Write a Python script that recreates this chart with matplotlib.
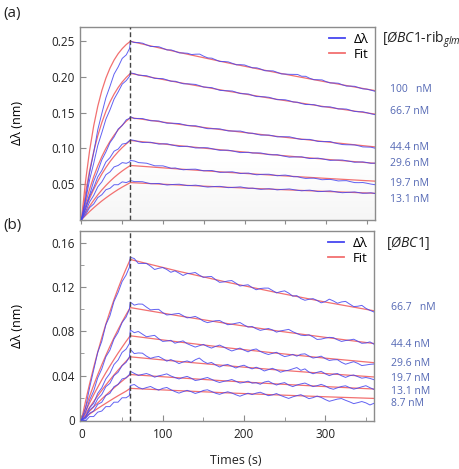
import numpy as np
import matplotlib
matplotlib.use("Agg")
import matplotlib.pyplot as plt
from matplotlib.lines import Line2D

plt.rcParams['font.family'] = ['Open Sans', 'DejaVu Sans']
plt.rcParams['mathtext.fontset'] = 'custom'
plt.rcParams['mathtext.rm'] = 'Open Sans'
plt.rcParams['mathtext.it'] = 'Open Sans:italic'

# ---------------- data ----------------
t_fit_assoc = [0, 5, 10, 15, 20, 25, 30, 35, 40, 45, 50, 55, 60]
t_fit_dis = [60, 120, 180, 240, 300, 360]
t_obs_assoc = [0, 5, 10, 15, 20, 25, 30, 35, 40, 45, 50, 55, 59]
t_obs_dis = list(range(60, 361, 5))

top_conc = ["100   nM", "66.7 nM", "44.4 nM", "29.6 nM", "19.7 nM", "13.1 nM"]
bot_conc = ["66.7   nM", "44.4 nM", "29.6 nM", "19.7 nM", "13.1 nM", "8.7 nM"]

# Fit curves (nm)
top_fit_assoc = [
    [0, 0.054, 0.097, 0.1315, 0.159, 0.181, 0.1985, 0.2125, 0.2237, 0.2326, 0.2397, 0.2455, 0.250],
    [0, 0.0375, 0.069, 0.0954, 0.1176, 0.1362, 0.1519, 0.165, 0.176, 0.1852, 0.193, 0.1995, 0.205],
    [0, 0.023, 0.0429, 0.0603, 0.0754, 0.0885, 0.0999, 0.1098, 0.1184, 0.1259, 0.1324, 0.1381, 0.143],
    [0, 0.0158, 0.0299, 0.0426, 0.0539, 0.0641, 0.0732, 0.0814, 0.0887, 0.0952, 0.1011, 0.1063, 0.111],
    [0, 0.0099, 0.019, 0.0272, 0.0348, 0.0417, 0.048, 0.0538, 0.0591, 0.0639, 0.0683, 0.0723, 0.076],
    [0, 0.0059, 0.0115, 0.0167, 0.0216, 0.0263, 0.0306, 0.0347, 0.0386, 0.0423, 0.0457, 0.0489, 0.052],
]
top_fit_dis = [
    [0.250, 0.2343, 0.2196, 0.2059, 0.1930, 0.1809],
    [0.205, 0.1921, 0.1800, 0.1686, 0.1580, 0.1480],
    [0.143, 0.1336, 0.1249, 0.1167, 0.1091, 0.1020],
    [0.111, 0.1037, 0.0969, 0.0905, 0.0846, 0.0790],
    [0.076, 0.0710, 0.0663, 0.0620, 0.0579, 0.0540],
    [0.052, 0.0486, 0.0454, 0.0424, 0.0396, 0.0370],
]
bot_fit_assoc = [
    [0, 0.0168, 0.0326, 0.0474, 0.0613, 0.0743, 0.0865, 0.0978, 0.1086, 0.1186, 0.128, 0.1367, 0.145],
    [0, 0.011, 0.0214, 0.0313, 0.0408, 0.0498, 0.0583, 0.0664, 0.0742, 0.0815, 0.0885, 0.0952, 0.1015],
    [0, 0.0078, 0.0153, 0.0226, 0.0295, 0.0362, 0.0426, 0.0487, 0.0546, 0.0603, 0.0657, 0.071, 0.076],
    [0, 0.0057, 0.0112, 0.0166, 0.0217, 0.0267, 0.0315, 0.0361, 0.0406, 0.0449, 0.0491, 0.0531, 0.057],
    [0, 0.004, 0.0079, 0.0117, 0.0153, 0.0189, 0.0223, 0.0257, 0.0289, 0.0321, 0.0351, 0.0381, 0.041],
    [0, 0.0027, 0.0053, 0.0078, 0.0103, 0.0127, 0.015, 0.0173, 0.0196, 0.0218, 0.0239, 0.026, 0.0285],
]
bot_fit_dis = [
    [0.145, 0.1342, 0.1243, 0.1151, 0.1065, 0.0986],
    [0.1015, 0.0940, 0.0870, 0.0805, 0.0746, 0.0690],
    [0.0760, 0.0704, 0.0651, 0.0603, 0.0558, 0.0517],
    [0.0570, 0.0528, 0.0489, 0.0452, 0.0419, 0.0388],
    [0.0410, 0.0380, 0.0351, 0.0325, 0.0301, 0.0279],
    [0.0285, 0.0264, 0.0244, 0.0226, 0.0209, 0.0194],
]

# Measured signal, association phase (nm)
top_obs_assoc = [
    [0, 0.030, 0.066, 0.094, 0.126, 0.149, 0.171, 0.187, 0.204, 0.214, 0.226, 0.231, 0.240],
    [0, 0.027, 0.056, 0.079, 0.104, 0.122, 0.141, 0.154, 0.169, 0.179, 0.190, 0.195, 0.201],
    [0, 0.019, 0.035, 0.054, 0.068, 0.084, 0.095, 0.108, 0.116, 0.127, 0.132, 0.140, 0.142],
    [0, 0.015, 0.033, 0.045, 0.060, 0.069, 0.081, 0.087, 0.096, 0.099, 0.106, 0.107, 0.111],
    [0, 0.011, 0.025, 0.034, 0.046, 0.053, 0.063, 0.067, 0.074, 0.076, 0.080, 0.079, 0.081],
    [0, 0.007, 0.017, 0.022, 0.031, 0.035, 0.042, 0.044, 0.049, 0.049, 0.053, 0.052, 0.054],
]
bot_obs_assoc = [
    [0, 0.011, 0.029, 0.045, 0.061, 0.071, 0.086, 0.094, 0.107, 0.115, 0.125, 0.131, 0.138],
    [0, 0.007, 0.018, 0.026, 0.038, 0.046, 0.057, 0.063, 0.073, 0.079, 0.088, 0.093, 0.100],
    [0, 0.003, 0.011, 0.015, 0.024, 0.029, 0.037, 0.042, 0.050, 0.054, 0.061, 0.064, 0.069],
    [0, 0.002, 0.009, 0.012, 0.019, 0.023, 0.030, 0.033, 0.040, 0.043, 0.049, 0.052, 0.057],
    [0, 0.001, 0.006, 0.008, 0.014, 0.016, 0.022, 0.024, 0.030, 0.032, 0.037, 0.038, 0.041],
    [0, -0.001, 0.003, 0.003, 0.007, 0.008, 0.012, 0.012, 0.016, 0.016, 0.020, 0.020, 0.022],
]

# Measured signal, dissociation phase (units of 1e-4 nm), t = 60..360 s every 5 s
top_obs_dis_e4 = [
    [2500, 2482, 2482, 2473, 2448, 2427, 2426, 2423, 2401, 2378, 2379, 2359, 2337, 2336, 2332, 2314,
     2319, 2320, 2290, 2267, 2263, 2238, 2216, 2216, 2211, 2191, 2170, 2172, 2168, 2147, 2128, 2128,
     2110, 2087, 2086, 2085, 2065, 2043, 2041, 2037, 2036, 2035, 2010, 2009, 1981, 1962, 1961, 1959,
     1935, 1916, 1916, 1912, 1890, 1872, 1872, 1869, 1851, 1833, 1829, 1815, 1799],
    [2058, 2045, 2025, 2021, 2017, 1998, 1980, 1979, 1976, 1958, 1940, 1940, 1921, 1904, 1904, 1900,
     1895, 1877, 1858, 1855, 1850, 1830, 1812, 1808, 1806, 1803, 1785, 1767, 1764, 1761, 1740, 1725,
     1724, 1721, 1715, 1699, 1682, 1682, 1680, 1666, 1649, 1646, 1627, 1614, 1613, 1612, 1598, 1582,
     1582, 1581, 1567, 1552, 1553, 1550, 1533, 1517, 1513, 1512, 1499, 1484, 1472],
    [1445, 1416, 1419, 1417, 1401, 1386, 1386, 1383, 1365, 1352, 1352, 1350, 1347, 1333, 1319, 1316,
     1316, 1303, 1287, 1275, 1275, 1275, 1272, 1257, 1244, 1242, 1242, 1242, 1227, 1213, 1211, 1197,
     1185, 1186, 1186, 1175, 1161, 1163, 1162, 1162, 1148, 1135, 1124, 1126, 1125, 1112, 1097, 1094,
     1095, 1095, 1077, 1064, 1053, 1050, 1049, 1048, 1035, 1020, 1018, 1016, 1002],
    [1120, 1110, 1093, 1082, 1084, 1085, 1071, 1059, 1063, 1063, 1049, 1037, 1026, 1027, 1029, 1018,
     1005, 1006, 1009, 1007, 995, 982, 972, 974, 974, 964, 951, 940, 943, 944, 934, 936,
     935, 923, 911, 909, 911, 898, 887, 876, 879, 880, 881, 868, 857, 859, 863, 854,
     842, 831, 834, 836, 836, 826, 816, 805, 808, 810, 801, 790, 793],
    [830, 822, 800, 796, 791, 773, 755, 755, 754, 738, 721, 725, 710, 699, 705, 707,
     708, 696, 685, 688, 689, 675, 663, 665, 669, 671, 660, 647, 651, 653, 639, 629,
     634, 637, 637, 627, 616, 622, 625, 616, 602, 603, 588, 578, 581, 582, 572, 560,
     563, 565, 555, 543, 546, 547, 533, 520, 519, 521, 511, 499, 490],
    [550, 533, 534, 532, 517, 504, 506, 508, 495, 486, 492, 495, 497, 487, 478, 480,
     484, 476, 464, 457, 462, 466, 467, 458, 449, 452, 456, 460, 449, 440, 442, 433,
     425, 430, 434, 428, 418, 424, 427, 431, 421, 412, 405, 411, 414, 405, 394, 395,
     400, 404, 395, 385, 378, 382, 385, 389, 380, 370, 372, 377, 367],
]
bot_obs_dis_e4 = [
    [1470, 1458, 1414, 1414, 1414, 1389, 1359, 1370, 1377, 1359, 1334, 1347, 1327, 1305, 1322, 1325,
     1332, 1308, 1288, 1294, 1296, 1268, 1243, 1247, 1255, 1259, 1236, 1210, 1216, 1221, 1196, 1176,
     1187, 1191, 1191, 1170, 1148, 1159, 1166, 1146, 1118, 1123, 1096, 1081, 1090, 1096, 1079, 1058,
     1069, 1091, 1075, 1054, 1066, 1071, 1047, 1024, 1027, 1035, 1008, 990, 975],
    [1065, 1037, 1047, 1046, 1019, 994, 998, 999, 969, 948, 952, 958, 962, 942, 922, 927,
     935, 917, 893, 879, 887, 896, 898, 878, 860, 865, 873, 880, 858, 839, 844, 824,
     809, 817, 826, 813, 793, 804, 811, 818, 797, 781, 766, 762, 769, 750, 727, 730,
     739, 746, 743, 724, 709, 717, 722, 729, 711, 692, 695, 705, 684],
    [813, 788, 799, 775, 751, 758, 764, 734, 709, 713, 719, 693, 704, 714, 689, 673,
     658, 670, 682, 663, 649, 664, 676, 659, 639, 623, 635, 649, 631, 615, 633, 641,
     619, 603, 591, 601, 611, 589, 572, 580, 592, 576, 593, 597, 577, 559, 566, 576,
     554, 537, 543, 544, 520, 503, 515, 526, 511, 491, 496, 502, 505],
    [638, 599, 605, 603, 576, 556, 567, 573, 553, 531, 545, 529, 509, 523, 533, 520,
     543, 559, 529, 510, 519, 497, 478, 494, 501, 485, 469, 485, 494, 476, 461, 476,
     462, 442, 454, 466, 451, 431, 442, 449, 461, 473, 448, 461, 432, 417, 430, 439,
     417, 400, 413, 419, 399, 384, 399, 406, 391, 377, 383, 375, 363],
    [440, 420, 402, 411, 419, 406, 386, 398, 406, 416, 397, 383, 370, 384, 393, 377,
     356, 362, 374, 383, 367, 350, 338, 348, 355, 365, 349, 333, 339, 350, 332, 336,
     322, 342, 350, 331, 315, 329, 337, 315, 301, 315, 325, 333, 317, 301, 309, 321,
     307, 287, 277, 290, 302, 308, 292, 278, 287, 299, 309, 291, 275],
    [310, 320, 294, 280, 292, 302, 283, 269, 285, 293, 273, 256, 242, 255, 267, 255,
     239, 250, 266, 272, 257, 241, 231, 244, 254, 243, 227, 214, 228, 241, 229, 242,
     250, 235, 219, 226, 238, 221, 207, 194, 208, 219, 228, 210, 192, 201, 215, 203,
     184, 168, 178, 188, 193, 177, 163, 147, 156, 166, 154, 135, 150],
]

# ---------------- style ----------------
BLUE = '#4646f0'
RED = '#f27070'
LABEL_BLUE = '#5468b4'
SPINE = '#8c8c8c'
W, H = 460, 469

fig = plt.figure(figsize=(W / 100, H / 100), dpi=100)
ax1 = fig.add_axes([80 / W, 1 - 219.7 / H, 295 / W, (219.7 - 27) / H])
ax2 = fig.add_axes([80 / W, 1 - 421 / H, 294 / W, (421 - 231) / H])


def draw_panel(ax, fit_a, fit_d, obs_a, obs_d_e4):
    for fa, fd in zip(fit_a, fit_d):
        ax.plot(t_fit_assoc + t_fit_dis[1:], fa + fd[1:], color=RED, lw=0.9, zorder=2)
    for oa, od in zip(obs_a, obs_d_e4):
        vals = list(oa) + [v / 1e4 for v in od]
        ax.plot(t_obs_assoc + t_obs_dis, vals, color=BLUE, lw=0.7, alpha=0.85, zorder=3)
    ax.axvline(60, color='#444444', lw=1.0, ls=(0, (3.5, 2)), zorder=4)
    for s in ax.spines.values():
        s.set_color(SPINE)
        s.set_linewidth(1.0)
    ax.tick_params(colors='#222222', labelsize=8.5)
    ax.tick_params(which='both', color=SPINE)
    ax.set_ylabel('Δλ (nm)', fontsize=9, labelpad=6)
    ax.legend(handles=[Line2D([], [], color=BLUE, lw=1.3), Line2D([], [], color=RED, lw=1.3)],
              labels=['Δλ', 'Fit'], loc='upper right', frameon=False, fontsize=9.5,
              handlelength=1.2, handletextpad=0.7, labelspacing=0.15,
              borderaxespad=0.15, borderpad=0.3)


draw_panel(ax1, top_fit_assoc, top_fit_dis, top_obs_assoc, top_obs_dis_e4)
draw_panel(ax2, bot_fit_assoc, bot_fit_dis, bot_obs_assoc, bot_obs_dis_e4)

# top panel
ax1.set_xlim(-1.8, 360)
ax1.set_ylim(0, 0.27)
ax1.set_yticks([0, 0.05, 0.10, 0.15, 0.20, 0.25])
ax1.set_yticklabels(['', '0.05', '0.10', '0.15', '0.20', '0.25'])
ax1.set_xticks(list(range(0, 361, 50)))
ax1.tick_params(axis='x', direction='out', length=3, labelbottom=False)
ax1.tick_params(axis='y', direction='in', length=4)
grad = np.linspace(0, 1, 200)[:, None]
shade = 0.965 + 0.035 * np.clip(grad / 0.3, 0, 1)
ax1.imshow(np.dstack([shade, shade, shade]), extent=[-1.8, 360, 0, 0.27], origin='lower',
           aspect='auto', zorder=0)
ax1.yaxis.set_label_coords(-0.19, 0.5)

# bottom panel
ax2.set_xlim(-1.8, 360)
ax2.set_ylim(-0.001, 0.1707)
ax2.set_yticks([0, 0.04, 0.08, 0.12, 0.16])
ax2.set_yticklabels(['0', '0.04', '0.08', '0.12', '0.16'])
ax2.set_yticks(np.arange(0.02, 0.17, 0.04), minor=True)
ax2.set_xticks([0, 100, 200, 300])
ax2.set_xticks([50, 150, 250, 350], minor=True)
ax2.tick_params(axis='both', which='both', direction='in')
ax2.tick_params(axis='both', which='major', length=4)
ax2.tick_params(axis='both', which='minor', length=3)
ax2.tick_params(axis='x', pad=5)
ax2.yaxis.set_label_coords(-0.19, 0.5)

fig.text(236 / W, 1 - 460 / H, 'Times (s)', fontsize=9, ha='center', va='center', color='#222222')

# panel letters
fig.text(3 / W, 1 - 14 / H, '(a)', fontsize=11, ha='left', va='center', color='#222222')
fig.text(3 / W, 1 - 226 / H, '(b)', fontsize=11, ha='left', va='center', color='#222222')

# series headers
fig.text(382 / W, 1 - 40 / H, r'[$\mathit{ØBC1}$-rib$_{\mathit{glm}}$', fontsize=10,
         ha='left', va='center', color='#222222')
fig.text(386 / W, 1 - 243 / H, r'[$\mathit{ØBC1}$]', fontsize=10,
         ha='left', va='center', color='#222222')

# concentration labels
top_lab_y = [90, 112, 147, 163, 183, 199]
bot_lab_y = [308, 344, 363, 378, 391, 403]
for lab, y in zip(top_conc, top_lab_y):
    fig.text(390 / W, 1 - y / H, lab, fontsize=7.5, ha='left', va='center', color=LABEL_BLUE)
for lab, y in zip(bot_conc, bot_lab_y):
    fig.text(391 / W, 1 - y / H, lab, fontsize=7.5, ha='left', va='center', color=LABEL_BLUE)

fig.savefig('out.png', dpi=100)
